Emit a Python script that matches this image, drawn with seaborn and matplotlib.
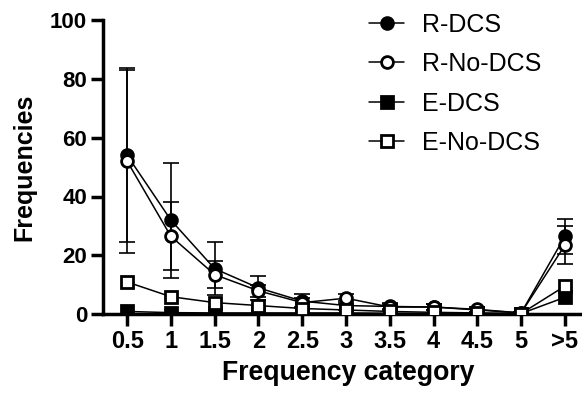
import numpy as np
import pandas as pd
import matplotlib
matplotlib.use("Agg")
import matplotlib.pyplot as plt
import seaborn as sns

categories = ['0.5', '1', '1.5', '2', '2.5', '3', '3.5', '4', '4.5', '5', '>5']

r_dcs = [54, 32, 15.5, 9, 4.5, 3, 2.7, 2.5, 1.5, 0.5, 26.5]
r_dcs_sd = [29.5, 19.5, 9, 4, 2.3, 1.5, 1, 1, 0.8, 0.3, 6]
r_nodcs = [52, 26.5, 13.5, 8, 4, 5.5, 2.5, 2.5, 1.7, 0.5, 23.5]
r_nodcs_sd = [31, 11.5, 4.5, 2, 1.5, 1.5, 1, 1, 0.8, 0.3, 6.5]
e_dcs = [1, 0.6, 0.5, 0.5, 0.5, 0.5, 0.4, 0.3, 0.3, 0.3, 5.8]
e_nodcs = [11, 6, 4, 3, 2, 1.5, 1, 0.7, 0.5, 0.3, 9.6]

series = [
    ('R-DCS', r_dcs, r_dcs_sd, 'o', 'black'),
    ('R-No-DCS', r_nodcs, r_nodcs_sd, 'o', 'white'),
    ('E-DCS', e_dcs, None, 's', 'black'),
    ('E-No-DCS', e_nodcs, None, 's', 'white'),
]

sns.set_style("ticks", {'axes.edgecolor': 'black', 'text.color': 'black',
                        'xtick.color': 'black', 'ytick.color': 'black',
                        'axes.labelcolor': 'black'})
plt.rcParams['font.family'] = ['Liberation Sans', 'DejaVu Sans']

fig, ax = plt.subplots(figsize=(5.82, 3.93), dpi=100)
x = np.arange(len(categories))

for name, vals, sd, mk, fc in series:
    df = pd.DataFrame({'x': x, 'y': vals})
    sns.lineplot(data=df, x='x', y='y', ax=ax, color='black', marker=mk,
                 markersize=8.5, mfc=fc, mec='black', mew=2, lw=1.1,
                 label=name, zorder=3)
    if sd is not None:
        ax.errorbar(x, vals, yerr=sd, fmt='none', ecolor='black',
                    elinewidth=1.2, capsize=5.5, capthick=1.2, zorder=2)

ax.set_xlim(-0.55, 10.35)
ax.set_ylim(0, 100)
ax.set_yticks([0, 20, 40, 60, 80, 100])
ax.set_xticks(x)
ax.set_xticklabels(categories)
for lab in ax.get_xticklabels():
    lab.set_fontweight('bold')
    lab.set_fontsize(17)
for lab in ax.get_yticklabels():
    lab.set_fontweight('bold')
    lab.set_fontsize(16)
ax.set_xlabel('Frequency category', fontsize=19.2, fontweight='bold',
              labelpad=5, x=0.514)
ax.set_ylabel('Frequencies', fontsize=18, fontweight='bold', labelpad=10)
ax.tick_params(width=2.5, length=8.5, direction='out', pad=3)
sns.despine(ax=ax)
for s in ['left', 'bottom']:
    ax.spines[s].set_linewidth(2.5)

leg = ax.legend(loc='upper right', bbox_to_anchor=(0.965, 1.10), frameon=False,
                fontsize=18, handlelength=1.4, labelspacing=0.62,
                handletextpad=0.7)

fig.subplots_adjust(left=0.177, right=0.997, top=0.95, bottom=0.2)
fig.savefig('out.png', dpi=100)
